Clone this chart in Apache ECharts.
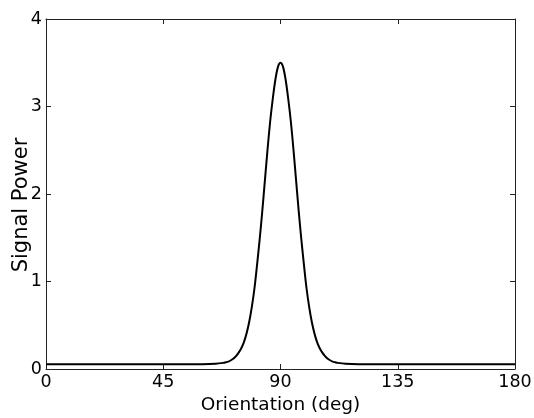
<!DOCTYPE html>
<html>
<head>
<meta charset="utf-8">
<script src="https://cdn.jsdelivr.net/npm/echarts@6/dist/echarts.min.js"></script>
<style>
  html, body { margin: 0; padding: 0; background: #fff; }
  #chart { width: 534px; height: 418px; }
</style>
</head>
<body>
<div id="chart"></div>
<script>
  // orientation (deg) and signal power
  const orientation = [0, 10, 20, 30, 40, 50, 60, 65, 68, 69, 70, 71, 72, 73, 74, 75, 76, 77, 78, 79,
    80, 81, 82, 83, 84, 85, 86, 87, 88, 89, 90, 91, 92, 93, 94, 95, 96, 97, 98, 99,
    100, 101, 102, 103, 104, 105, 106, 107, 108, 109, 110, 111, 112, 115, 120, 130, 140, 150, 160, 170, 180]
  const power = [0.054, 0.054, 0.054, 0.054, 0.054, 0.054, 0.055, 0.06, 0.07, 0.077, 0.085, 0.10, 0.12, 0.15, 0.19, 0.24, 0.31, 0.41, 0.54, 0.71,
    0.92, 1.19, 1.48, 1.80, 2.15, 2.50, 2.82, 3.08, 3.30, 3.45, 3.50, 3.45, 3.30, 3.08, 2.82, 2.50, 2.15, 1.80, 1.48, 1.19,
    0.92, 0.71, 0.54, 0.41, 0.31, 0.24, 0.19, 0.15, 0.12, 0.10, 0.085, 0.077, 0.07, 0.06, 0.055, 0.054, 0.054, 0.054, 0.054, 0.054, 0.054]
  const xTicks = [0, 180, 45]   // min, max, interval
  const yTicks = [0, 4, 1]

  const font = 'DejaVu Sans'
  const axisColor = '#222'

  function axis(pos, range, showLabel, extra) {
    return Object.assign({
      type: 'value',
      position: pos,
      min: range[0],
      max: range[1],
      interval: range[2],
      axisLine: {show: true, onZero: false, lineStyle: {color: axisColor, width: 1}},
      axisTick: {show: true, inside: true, length: 5, lineStyle: {color: axisColor, width: 1}},
      splitLine: {show: false},
      axisLabel: {show: showLabel, color: '#000', fontFamily: font, fontSize: 17.5}
    }, extra || {})
  }

  const chart = echarts.init(document.getElementById('chart'))
  let data = orientation.map((o, i) => [o, power[i]])

  let option = {
    animation: false,
    backgroundColor: '#fff',
    grid: {left: 46, right: 19, top: 19, bottom: 49, containLabel: false, outerBoundsMode: 'none'},
    xAxis: [
      axis('bottom', xTicks, true, {
        name: 'Orientation (deg)',
        nameLocation: 'middle',
        nameGap: 27,
        nameMoveOverlap: false,
        nameTextStyle: {color: '#000', fontFamily: font, fontSize: 18.5},
        axisLabel: {show: true, color: '#000', fontFamily: font, fontSize: 17.5, margin: 4}
      }),
      axis('top', xTicks, false)
    ],
    yAxis: [
      axis('left', yTicks, true, {
        name: 'Signal Power',
        nameLocation: 'middle',
        nameGap: 14,
        nameMoveOverlap: false,
        nameTextStyle: {color: '#000', fontFamily: font, fontSize: 21, padding: [0, 22, 0, 0]},
        axisLabel: {show: true, color: '#000', fontFamily: font, fontSize: 17.5, margin: 4}
      }),
      axis('right', yTicks, false)
    ],
    series: [
      {
        type: 'line',
        data: data,
        smooth: 0.3,
        showSymbol: false,
        lineStyle: {color: '#000', width: 2}
      }
    ]
  }
  chart.setOption(option)
</script>
</body>
</html>
